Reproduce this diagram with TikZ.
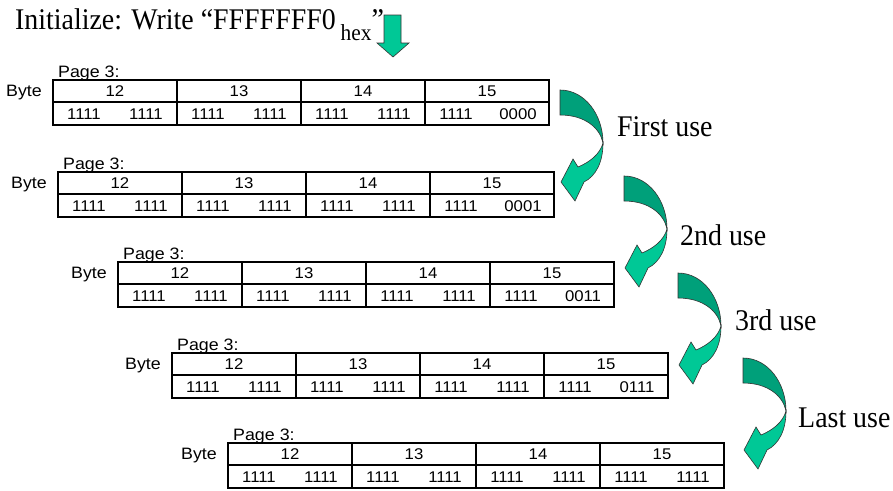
\documentclass[tikz,border=0pt]{standalone}
\usepackage{fontspec}
\setmainfont{Liberation Serif}[FakeStretch=0.93]
\newfontfamily\tabfont{Liberation Sans}[FakeStretch=1.08]
\definecolor{darkg}{HTML}{00A07A}
\definecolor{lightg}{HTML}{00C896}
\tikzset{
  tbl/.style={line width=1.1pt, black},
  tabtxt/.style={font=\tabfont\fontsize{15.5}{17}\selectfont, inner sep=0pt},
  lbl/.style={font=\fontsize{30}{32}\selectfont, inner sep=0pt, anchor=base west},
  darkpart/.style={fill=darkg, draw=black!80, line width=0.6pt},
  lightpart/.style={fill=lightg, draw=black!80, line width=0.6pt},
}
\newcommand\pagetable[4]{%
\begin{scope}[shift={(#2,#3)}]
  \draw[tbl] (0,0) rectangle (496,45);
  \draw[tbl] (0,22) -- (496,22);
  \foreach \i in {1,2,3}{\draw[tbl] (124*\i,0) -- (124*\i,45);}
  \node[tabtxt, anchor=base west, font=\tabfont\fontsize{16.5}{18}\selectfont] (#1-page) at (5,-3) {Page 3:};
  \node[tabtxt, anchor=base east, font=\tabfont\fontsize{16.5}{18}\selectfont] (#1-byte) at (-11,16.5) {Byte};
  \foreach \bb [count=\k from 0] in {12,13,14,15}{
    \node[tabtxt, anchor=base] (#1-h\bb) at (124*\k+62,16.5) {\bb};
  }
  \foreach \k in {0,1,2}{
    \node[tabtxt, anchor=base] (#1-a\k) at (124*\k+31,39) {1111};
    \node[tabtxt, anchor=base] (#1-b\k) at (124*\k+93,39) {1111};
  }
  \node[tabtxt, anchor=base] (#1-a3) at (403,39) {1111};
  \node[tabtxt, anchor=base] (#1-b3) at (465,39) {#4};
\end{scope}}
\newcommand\usearrow[2]{%
\begin{scope}[shift={(#1,#2)}]
  \path[darkpart] (0,0) .. controls (25,0) and (43,25) .. (43,53)
    .. controls (40,38) and (25,25) .. (0,25) -- cycle;
  \path[lightpart] (43,53) .. controls (43,72) and (36,86) .. (24,92)
    -- (15,111) -- (1,92) -- (13,69) -- (18,77)
    .. controls (30,72) and (40,64) .. (43,53) -- cycle;
\end{scope}}
\begin{document}
\begin{tikzpicture}[x=1pt,y=-1pt]
\path[use as bounding box] (0,0) rectangle (893,490);
\node[anchor=base west, inner sep=0pt, font=\fontsize{30}{32}\selectfont] (title) at (15,29)
  {Initialize: Write “FFFFFFF0\hspace{5pt}\raisebox{-11pt}{\fontsize{23}{24}\selectfont hex}”};
\path[lightpart] (384,15) -- (401,15) -- (401,43) -- (409,43) -- (393,57) -- (377,43) -- (384,43) -- cycle;
\pagetable{t1}{53}{80}{0000}
\pagetable{t2}{58}{172}{0001}
\pagetable{t3}{118}{262}{0011}
\pagetable{t4}{172}{353}{0111}
\pagetable{t5}{228}{443}{1111}
\usearrow{560}{90}
\usearrow{624}{176}
\usearrow{678}{273}
\usearrow{743}{358}
\node[lbl] (u1) at (617,136) {First use};
\node[lbl] (u2) at (680,245) {2nd use};
\node[lbl] (u3) at (735,330) {3rd use};
\node[lbl] (u4) at (798,427) {Last use};
\end{tikzpicture}
\end{document}
